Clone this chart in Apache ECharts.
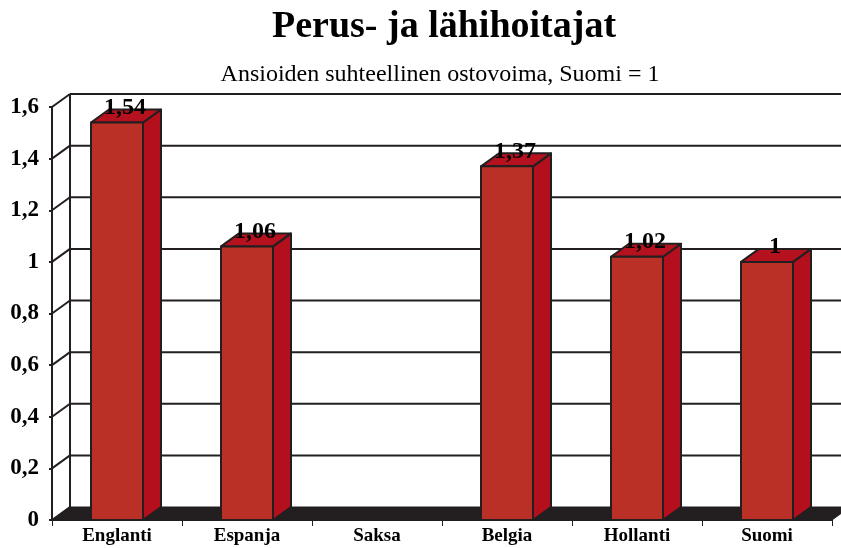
<!DOCTYPE html>
<html>
<head>
<meta charset="utf-8">
<script src="https://cdn.jsdelivr.net/npm/echarts@6/dist/echarts.min.js"></script>
<style>
  html, body { margin: 0; padding: 0; background: #fff; }
  #chart { width: 841px; height: 548px; }
</style>
</head>
<body>
<div id="chart"></div>
<script>
// Chart data.
var categories = ['Englanti', 'Espanja', 'Saksa', 'Belgia', 'Hollanti', 'Suomi'];
var values = [1.54, 1.06, null, 1.37, 1.02, 1];
var yTicks = [0, 0.2, 0.4, 0.6, 0.8, 1, 1.2, 1.4, 1.6];

// Depth of the fake 3D box.
var DX = 18;
var DY = 13;
var SERIF = '"Liberation Serif", "DejaVu Serif", serif';
var INK = '#231f20';

var fmt = function (v) {
  return String(v).replace('.', ',');
};

var chart = echarts.init(document.getElementById('chart'), null, {renderer: 'canvas'});

// Back wall, floor and the diagonal tick connectors.
var renderWall = function (params, api) {
  var cs = params.coordSys;
  var v = api.value(1);
  var y = api.coord([0, v])[1];
  var x0 = cs.x;
  var x1 = cs.x + cs.width;
  var children = [];

  if (v === 0) {
    children.push({
      type: 'polygon',
      shape: {points: [[x0, y], [x1, y], [x1 + DX, y - DY], [x0 + DX, y - DY]]},
      style: {fill: INK, stroke: INK, lineWidth: 1}
    });
    children.push({
      type: 'line',
      shape: {x1: x0 + DX, y1: y - DY, x2: x0 + DX, y2: cs.y - DY},
      style: {stroke: INK, lineWidth: 2}
    });
  }
  else {
    children.push({
      type: 'line',
      shape: {x1: x0 + DX, y1: y - DY, x2: x1 + DX, y2: y - DY},
      style: {stroke: INK, lineWidth: 2}
    });
  }
  children.push({
    type: 'line',
    shape: {x1: x0, y1: y, x2: x0 + DX, y2: y - DY},
    style: {stroke: INK, lineWidth: 2}
  });
  return {type: 'group', children: children};
};

// Bars with a front, side and top face.
var renderBar = function (params, api) {
  var idx = api.value(0);
  var v = api.value(1);
  if (isNaN(v)) {
    return null;
  }
  var top = api.coord([idx, v]);
  var base = api.coord([idx, 0]);
  var w = api.size([1, 0])[0] * 0.4;
  var xl = top[0] - w / 2;
  var xr = top[0] + w / 2;
  var yt = top[1];
  var yb = base[1];
  var edge = {stroke: INK, lineWidth: 2, lineJoin: 'round'};

  return {
    type: 'group',
    children: [
      {
        type: 'polygon',
        shape: {points: [[xr, yb], [xr + DX, yb - DY], [xr + DX, yt - DY], [xr, yt]]},
        style: Object.assign({fill: '#b30f1d'}, edge)
      },
      {
        type: 'polygon',
        shape: {points: [[xl, yt], [xr, yt], [xr + DX, yt - DY], [xl + DX, yt - DY]]},
        style: Object.assign({fill: '#b5111e'}, edge)
      },
      {
        type: 'rect',
        shape: {x: xl, y: yt, width: w, height: yb - yt},
        style: Object.assign({fill: '#ba2f26'}, edge)
      },
      {
        type: 'text',
        x: top[0] + 8,
        y: yt - DY - 2,
        style: {
          text: fmt(v),
          font: 'bold 24px ' + SERIF,
          fill: '#000',
          align: 'center',
          verticalAlign: 'middle'
        }
      }
    ]
  };
};

var option = {
  backgroundColor: '#fff',
  animation: false,
  title: [
    {
      text: 'Perus- ja lähihoitajat',
      left: 439,
      top: 3,
      textAlign: 'center',
      textStyle: {fontFamily: SERIF, fontWeight: 'bold', fontSize: 38, color: '#000'}
    },
    {
      text: 'Ansioiden suhteellinen ostovoima, Suomi = 1',
      left: 435,
      top: 58,
      textAlign: 'center',
      textStyle: {fontFamily: SERIF, fontWeight: 'normal', fontSize: 24, color: '#000'}
    }
  ],
  grid: {
    left: 52,
    right: 9,
    top: 107,
    bottom: 28
  },
  xAxis: {
    type: 'category',
    data: categories,
    axisLine: {lineStyle: {color: INK, width: 2}},
    axisTick: {show: true, length: 6, lineStyle: {color: INK, width: 1}},
    axisLabel: {fontFamily: SERIF, fontWeight: 'bold', fontSize: 19, color: '#000', margin: 7},
    splitLine: {show: false}
  },
  yAxis: {
    type: 'value',
    min: 0,
    max: 1.6,
    interval: 0.2,
    axisLine: {show: true, lineStyle: {color: INK, width: 2}},
    axisTick: {show: true, length: 3, lineStyle: {color: INK, width: 2}},
    axisLabel: {
      fontFamily: SERIF, fontWeight: 'bold', fontSize: 23, color: '#000', margin: 13,
      formatter: fmt
    },
    splitLine: {show: false}
  },
  series: [
    {
      name: 'wall',
      type: 'custom',
      clip: false,
      silent: true,
      z: 1,
      renderItem: renderWall,
      data: yTicks.map(function (v) { return [0, v]; })
    },
    {
      name: 'bars',
      type: 'custom',
      clip: false,
      z: 3,
      renderItem: renderBar,
      data: values.map(function (v, i) { return v === null ? [i, '-'] : [i, v]; })
    }
  ]
};

chart.setOption(option);
</script>
</body>
</html>
